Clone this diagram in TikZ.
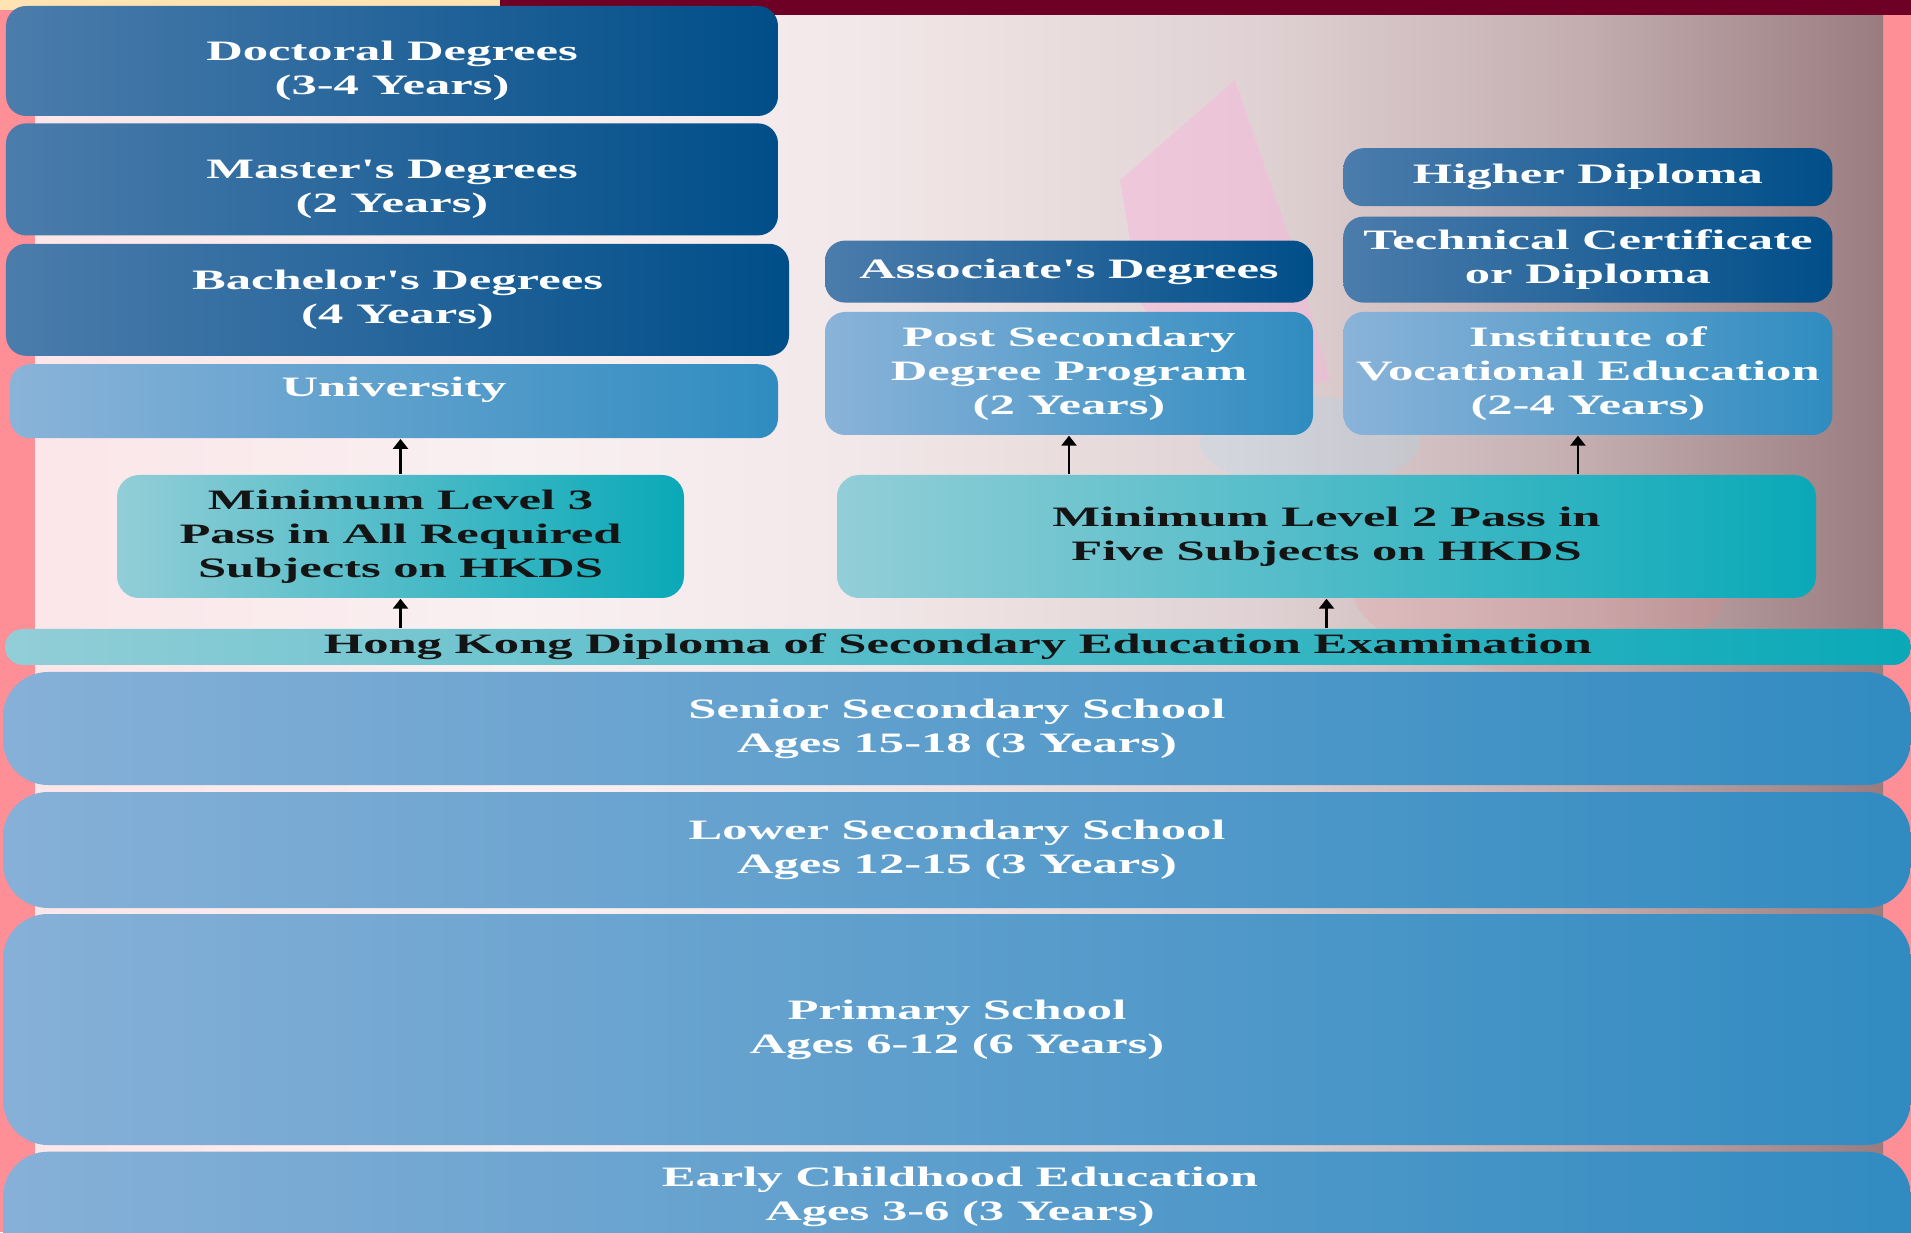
\documentclass[tikz,border=0pt]{standalone}
\usepackage{fontspec}
\usepackage{xcolor}
\usepackage{tikz}
\usetikzlibrary{arrows.meta,positioning}
\newfontfamily\boxfont{Liberation Serif}[FakeStretch=1.8]
\definecolor{degL}{HTML}{4B7CAC}
\definecolor{degR}{HTML}{004E89}
\definecolor{liteL}{HTML}{8AB3D9}
\definecolor{liteR}{HTML}{2F8CC0}
\definecolor{schL}{HTML}{86B0D7}
\definecolor{schR}{HTML}{318BC1}
\definecolor{reqL}{HTML}{92CED7}
\definecolor{reqR}{HTML}{0AA9B8}
\definecolor{bgL}{HTML}{FBE6E9}
\definecolor{bgW}{HTML}{F9F0F1}
\definecolor{bgV}{HTML}{F3E8E9}
\definecolor{bgM}{HTML}{E0D2D4}
\definecolor{bgD}{HTML}{C3ADAF}
\definecolor{bgR}{HTML}{9A7C7F}
\definecolor{edgepink}{HTML}{FF8F97}
\definecolor{maroon}{HTML}{6E0026}
\definecolor{peach}{HTML}{FFE3B3}
\definecolor{darktxt}{HTML}{141414}
\pgfdeclarehorizontalshading{slidebg}{100bp}{color(0bp)=(bgL); color(25bp)=(bgL); color(38bp)=(bgW); color(47bp)=(bgV); color(58bp)=(bgM); color(67bp)=(bgD); color(75bp)=(bgR); color(100bp)=(bgR)}

\begin{document}
\begin{tikzpicture}[
  font=\boxfont\bfseries\fontsize{8}{9.7}\selectfont,
  node distance=0.07cm,
  deg/.style={rounded corners=0.2cm, left color=degL, right color=degR, text=white, align=center, inner sep=0pt},
  lite/.style={rounded corners=0.2cm, left color=liteL, right color=liteR, text=white, align=center, inner sep=0pt},
  req/.style={rounded corners=0.22cm, left color=reqL, right color=reqR, text=darktxt, align=center, inner sep=0pt},
  school/.style={rounded corners=0.45cm, left color=schL, right color=schR, text=white, align=center, inner sep=0pt},
  up/.style={-{Triangle[length=1.0mm,width=1.5mm]}, line width=0.8pt, black}
]
\useasboundingbox (0,0) rectangle (19.11,12.32);

\fill[edgepink] (0,0) rectangle (19.11,12.32);
\fill[shading=slidebg] (0.35,0) rectangle (18.83,12.17);
\fill[maroon] (5.0,12.17) rectangle (19.11,12.32);
\fill[peach] (0,12.22) rectangle (5.0,12.32);
\fill[magenta!30, opacity=0.45] (11.2,10.52) -- (12.35,11.52) -- (12.9,9.92) -- (13.3,8.52) -- (12.0,8.12) -- (11.4,9.32) -- cycle;
\fill[red!50, opacity=0.15] (15.4,6.5) ellipse (1.9cm and 0.9cm);
\fill[cyan!40, opacity=0.2] (13.1,7.9) ellipse (1.1cm and 0.45cm);

\node[deg, minimum width=7.72cm, minimum height=1.10cm] (doc) at (3.92,11.71) {\rule{0pt}{0.39cm}Doctoral Degrees\\(3-4 Years)};
\node[deg, minimum width=7.72cm, minimum height=1.12cm, below=0.06cm of doc] (mas) {\rule{0pt}{0.39cm}Master's Degrees\\(2 Years)};
\node[deg, minimum width=7.83cm, minimum height=1.12cm, below=of mas, xshift=0.055cm] (bac) {Bachelor's Degrees\\(4 Years)};
\node[lite, minimum width=7.68cm, minimum height=0.74cm, below=of bac, xshift=-0.035cm] (uni) {University\rule[-0.28cm]{0pt}{0.28cm}};

\node[lite, minimum width=4.88cm, minimum height=1.23cm] (psd) at (10.69,8.585) {Post Secondary\\Degree Program\\(2 Years)};
\node[deg, minimum width=4.88cm, minimum height=0.62cm, above=0.08cm of psd] (asc) {Associate's Degrees};
\node[lite, minimum width=4.89cm, minimum height=1.23cm, right=0.29cm of psd] (ive) {Institute of\\Vocational Education\\(2-4 Years)};
\node[deg, minimum width=4.89cm, minimum height=0.86cm, above=0.08cm of ive] (tech) {Technical Certificate\\or Diploma};
\node[deg, minimum width=4.89cm, minimum height=0.58cm, above=0.09cm of tech] (hd) {Higher Diploma};

\node[req, minimum width=5.67cm, minimum height=1.23cm] (ml3) at (4.005,6.955) {Minimum Level 3\\Pass in All Required\\Subjects on HKDS};
\node[req, minimum width=9.79cm, minimum height=1.23cm] (ml2) at (13.265,6.955) {Minimum Level 2 Pass in\\Five Subjects on HKDS};

\node[req, rounded corners=0.18cm, minimum width=19.06cm, minimum height=0.36cm] (dse) at (9.58,5.85) {Hong Kong Diploma of Secondary Education Examination};

\node[school, minimum width=19.08cm, minimum height=1.13cm] (sen) at (9.57,5.035) {Senior Secondary School\\Ages 15-18 (3 Years)};
\node[school, minimum width=19.08cm, minimum height=1.16cm] (low) at (9.57,3.82) {Lower Secondary School\\Ages 12-15 (3 Years)};
\node[school, minimum width=19.08cm, minimum height=2.31cm] (pri) at (9.57,2.025) {Primary School\\Ages 6-12 (6 Years)};
\node[school, minimum width=19.08cm, minimum height=1.6cm, anchor=north] (early) at (9.57,0.81) {};
\node[text=white, align=center] (earlytxt) at (9.6,0.35) {Early Childhood Education\\Ages 3-6 (3 Years)};

\draw[up] (ml3.north) -- (ml3.north |- uni.south);
\draw[up] (psd.south |- ml2.north) -- (psd.south);
\draw[up] ([xshift=-0.1cm]ive.south |- ml2.north) -- ([xshift=-0.1cm]ive.south);
\draw[up] (ml3.south |- dse.north) -- (ml3.south);
\draw[up] (ml2.south |- dse.north) -- (ml2.south);

\end{tikzpicture}
\end{document}
